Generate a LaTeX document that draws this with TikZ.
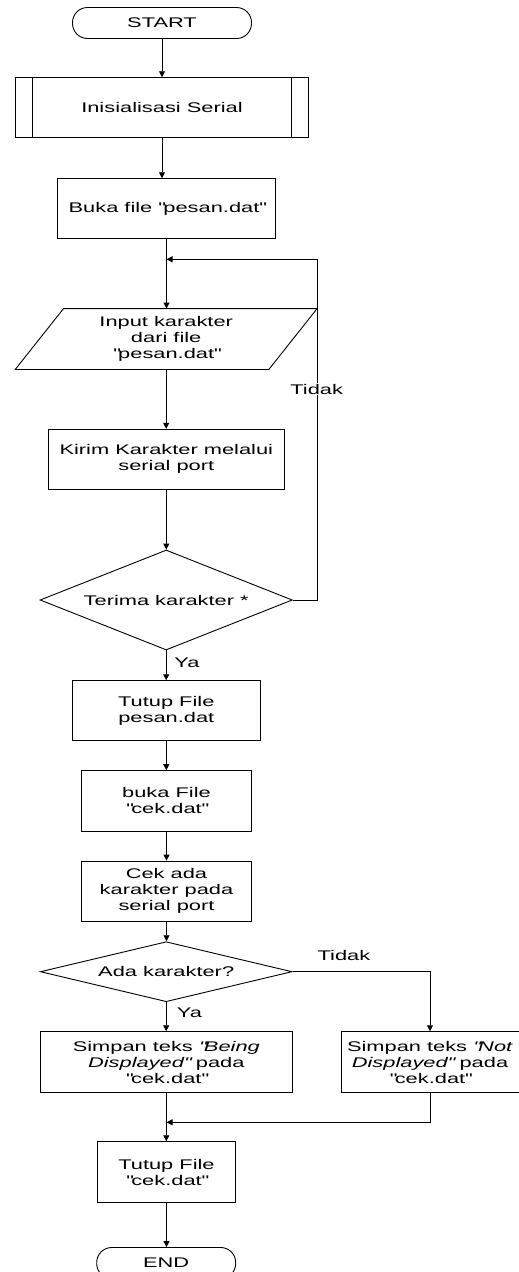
\documentclass[tikz,border=0pt]{standalone}
\usepackage{fontspec}
\setmainfont[FakeStretch=1.56]{Liberation Sans}
\usetikzlibrary{shapes.geometric,arrows.meta}
\newcommand{\dq}{\textquotedbl}

\begin{document}
\begin{tikzpicture}[x=1pt,y=-1pt,line width=0.9pt,
  font=\fontsize{14}{16}\selectfont,
  terminal/.style={draw,rounded corners=15pt,inner sep=0pt,minimum height=31pt},
  procbox/.style={draw,align=center,inner sep=0pt,minimum height=60pt},
  iobox/.style={align=center,inner sep=0pt,minimum height=60pt},
  decision/.style={draw,diamond,inner sep=0pt,align=center},
  flowarrow/.style={-{Triangle[length=6pt,width=6pt]}},
  branchlabel/.style={inner sep=1pt}]
  \useasboundingbox (0,0) rectangle (519,1272);
  
  % Marking terminal START
  \node [terminal,minimum width=179pt] (start) at (162,23) {START};%
  
  % Marking predefined process
  \node [procbox,minimum width=292.6pt] (init) at (162,107.7) {Inisialisasi Serial};%
  \draw ([xshift=17pt]init.north west) -- ([xshift=17pt]init.south west);%
  \draw ([xshift=-17pt]init.north east) -- ([xshift=-17pt]init.south east);%
  
  % Marking process boxes
  \node [procbox,minimum width=218.7pt] (buka) at (166.5,208.7) {Buka file \dq pesan.dat\dq};%
  \node [iobox,minimum width=301pt] (input) at (166.2,339) {Input karakter\\dari file\\\dq pesan.dat\dq};%
  \draw ([xshift=48.3pt]input.north west) -- (input.north east) -- ([xshift=-48.3pt]input.south east) -- (input.south west) -- cycle;%
  \node [procbox,minimum width=236pt] (kirim) at (166.3,459.3) {Kirim Karakter melalui\\serial port};%
  
  % Marking decision Terima
  \node [decision,shape aspect=2.52,minimum width=252.3pt,minimum height=100pt] (terima) at (166.2,600) {Terima karakter *};%
  
  \node [procbox,minimum width=187.3pt] (tutuppesan) at (166.3,710.7) {Tutup File\\pesan.dat};%
  \node [procbox,minimum width=170.4pt,minimum height=60.3pt] (bukacek) at (166.5,800.8) {buka File\\\dq cek.dat\dq};%
  \node [procbox,minimum width=170.4pt,minimum height=60.3pt] (cek) at (166.5,891.2) {Cek ada\\karakter pada\\serial port};%
  
  % Marking decision Ada
  \node [decision,shape aspect=4.2,minimum width=251.7pt,minimum height=60pt] (ada) at (166.2,971.7) {Ada karakter?};%
  
  \node [procbox,minimum width=252.7pt,minimum height=60.6pt] (being) at (166.3,1062) {Simpan teks \textit{\dq Being}\\\textit{Displayed\dq} pada\\\dq cek.dat\dq};%
  \node [procbox,minimum width=178pt,minimum height=60.6pt] (notdisp) at (430,1062) {Simpan teks \textit{\dq Not}\\\textit{Displayed\dq} pada\\\dq cek.dat\dq};%
  \node [procbox,minimum width=138.4pt,minimum height=60.6pt] (tutupcek) at (166.5,1172) {Tutup File\\\dq cek.dat\dq};%
  
  % Marking terminal END
  \node [terminal,minimum width=139pt] (end) at (166.2,1263) {END};%
  
  % Drawing main arrows
  \draw [flowarrow] (start.south) -- (start.south |- init.north);%
  \draw [flowarrow] (init.south) -- (init.south |- buka.north);%
  \draw [flowarrow] (buka.south) -- (buka.south |- input.north);%
  \draw [flowarrow] (input.south) -- (input.south |- kirim.north);%
  \draw [flowarrow] (kirim.south) -- (kirim.south |- terima.north);%
  \draw [flowarrow] (terima.south) -- (terima.south |- tutuppesan.north);%
  \draw [flowarrow] (tutuppesan.south) -- (tutuppesan.south |- bukacek.north);%
  \draw [flowarrow] (bukacek.south) -- (bukacek.south |- cek.north);%
  \draw [flowarrow] (cek.south) -- (cek.south |- ada.north);%
  \draw [flowarrow] (ada.south) -- (ada.south |- being.north);%
  \draw [flowarrow] (being.south) -- (being.south |- tutupcek.north);%
  \draw [flowarrow] (tutupcek.south) -- (tutupcek.south |- end.north);%
  
  % Drawing loop back Tidak
  \coordinate (loopjoin) at (166.5,259.3);%
  \draw [flowarrow] (terima.east) -- ++(24.4,0) |- (loopjoin);%
  \node [branchlabel,fill=white] (tidakloop) at (316.7,389) {Tidak};%
  \node [branchlabel,anchor=west] (yaterima) at (173,663) {Ya};%
  
  % Drawing branch Tidak
  \draw [flowarrow] (ada.east) -| (notdisp.north);%
  \node [branchlabel] (tidakada) at (344,955) {Tidak};%
  \node [branchlabel,anchor=west] (yaada) at (175.5,1012.7) {Ya};%
  
  % Drawing join
  \coordinate (join) at (166.5,1122.3);%
  \draw [flowarrow] (notdisp.south) |- (join);%
\end{tikzpicture}
\end{document}
